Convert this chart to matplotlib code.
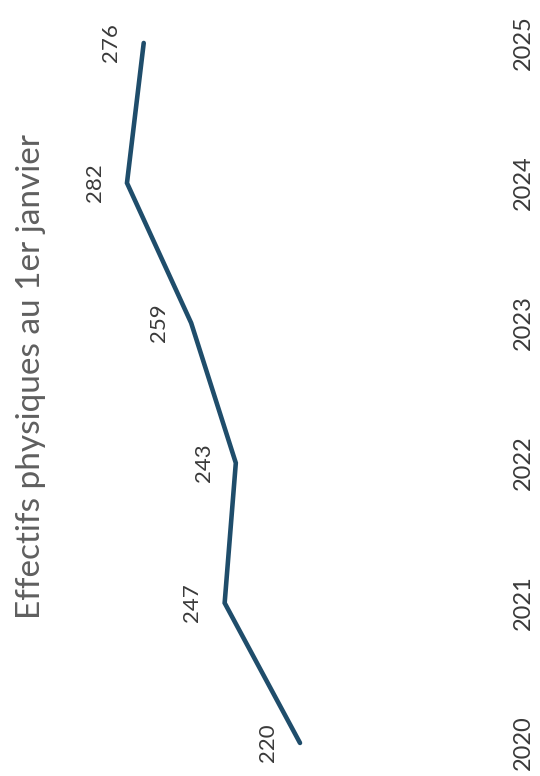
import matplotlib
matplotlib.use("Agg")
import matplotlib.pyplot as plt
import matplotlib.transforms as mtransforms

years = [2020, 2021, 2022, 2023, 2024, 2025]
values = [220, 247, 243, 259, 282, 276]
title = "Effectifs physiques au 1er janvier"

plt.rcParams['font.family'] = ['Lato', 'DejaVu Sans']

fig = plt.figure(figsize=(5.4, 7.76), dpi=100)
ax = fig.add_axes([0, 0, 1, 1])
ax.axis('off')

line_color = '#1f4d6b'
ax.plot(values, years, color=line_color, lw=3.3, solid_capstyle='round', solid_joinstyle='miter')
ax.set_xlim(327.5, 134)
ax.set_ylim(2019.764, 2025.307)

for v, y in zip(values, years):
    ax.annotate(str(v), (v, y), xytext=(-16, 0), textcoords='offset points',
                rotation=90, ha='right', va='center', fontsize=16, color='#3a3a3a')

trans = mtransforms.blended_transform_factory(ax.transAxes, ax.transData)
for y in years:
    ax.text(0.970, y, str(y), transform=trans, rotation=90, ha='center', va='center',
            fontsize=17, color='#3a3a3a')

ax.text(0.058, 0.515, title, transform=ax.transAxes, rotation=90, ha='center', va='center',
        fontsize=24, color='#5f5f5f')

fig.savefig('out.png', dpi=100)
